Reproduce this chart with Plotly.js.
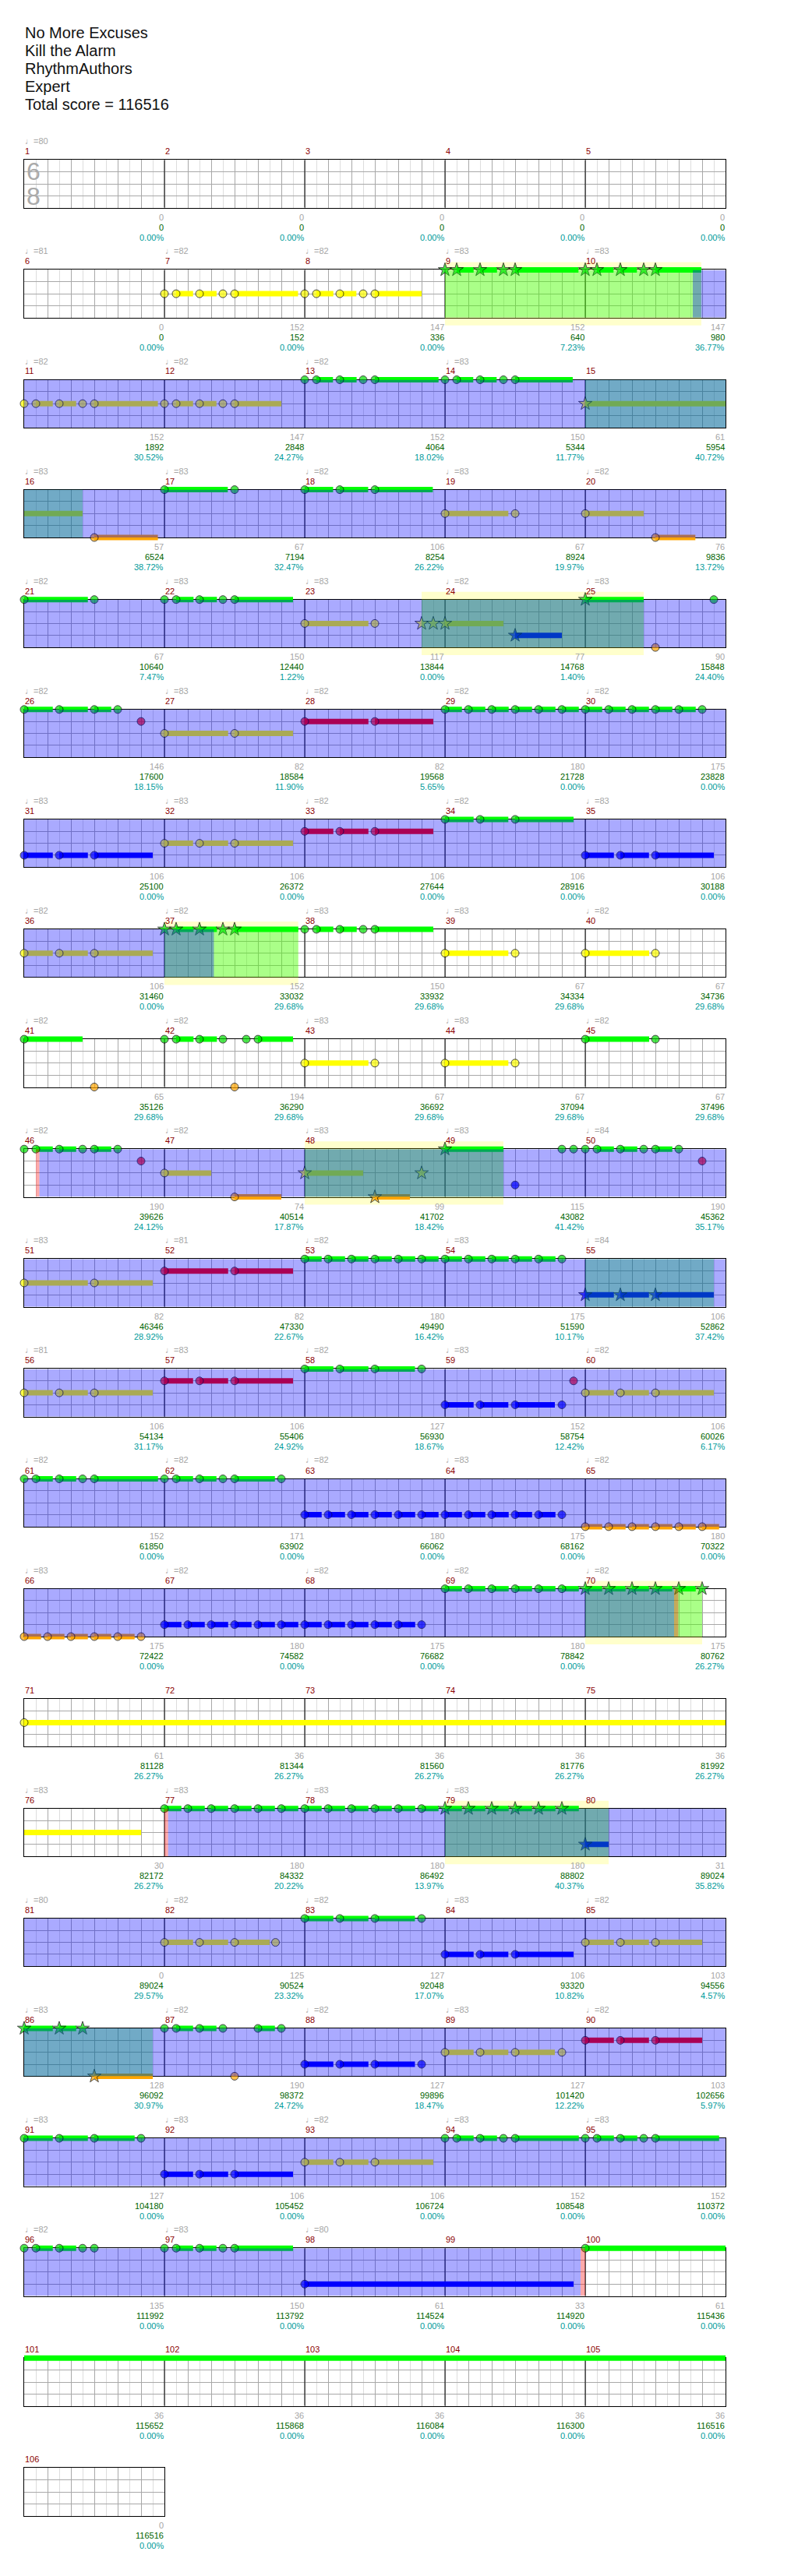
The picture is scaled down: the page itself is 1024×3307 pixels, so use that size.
<!DOCTYPE html>
<html><head><meta charset="utf-8">
<script src="https://cdn.plot.ly/plotly-3.0.1.min.js"></script>
<style>html,body{margin:0;padding:0;background:#fff}</style>
</head><body><div id="chart" style="width:1024px;height:3307px"></div>
<script>
// ---------------- DATA ----------------
const titleLines = ["No More Excuses", "Kill the Alarm", "RhythmAuthors", "Expert", "Total score = 116516"];
const measureTotal = 106;
const timeSignature = ["6", "8"];

const tempoMeasures = [1, 6,7,8,9,10,11,12,13,14, 16,17,18,19,20, 21,22,23,24,25, 26,27,28,29,30, 31,32,33,34,35,
  36,37,38,39,40, 41,42,43,44,45, 46,47,48,49,50, 51,52,53,54,55, 56,57,58,59,60, 61,62,63,64,65, 66,67,68,69,70,
  76,77,78,79, 81,82,83,84,85, 86,87,88,89,90, 91,92,93,94,95, 96,97,98];
const tempoValues = [80, 81,82,82,83,83,82,82,82,83, 83,83,82,83,82, 82,83,83,82,83, 82,83,82,82,82, 83,83,82,82,83,
  82,82,83,83,82, 82,82,83,83,82, 82,82,83,83,84, 83,81,82,83,84, 81,83,82,83,82, 82,82,82,83,82, 83,82,82,82,82,
  83,83,83,83, 80,82,82,83,82, 83,82,82,83,82, 83,83,82,83,83, 82,83,80];

const measurePoints = [0,0,0,0,0, 0,152,147,152,147, 152,147,152,150,61, 57,67,106,67,76, 67,150,117,77,90,
  146,82,82,180,175, 106,106,106,106,106, 106,152,150,67,67, 65,194,67,67,67, 190,74,99,115,190,
  82,82,180,175,106, 106,106,127,152,106, 152,171,180,175,180, 175,180,175,180,175, 61,36,36,36,36,
  30,180,180,180,31, 0,125,127,106,103, 128,190,127,127,103, 127,106,106,152,152, 135,150,61,33,61,
  36,36,36,36,36, 0];
const runningScore = [0,0,0,0,0, 0,152,336,640,980, 1892,2848,4064,5344,5954, 6524,7194,8254,8924,9836,
  10640,12440,13844,14768,15848, 17600,18584,19568,21728,23828, 25100,26372,27644,28916,30188,
  31460,33032,33932,34334,34736, 35126,36290,36692,37094,37496, 39626,40514,41702,43082,45362,
  46346,47330,49490,51590,52862, 54134,55406,56930,58754,60026, 61850,63902,66062,68162,70322,
  72422,74582,76682,78842,80762, 81128,81344,81560,81776,81992, 82172,84332,86492,88802,89024,
  89024,90524,92048,93320,94556, 96092,98372,99896,101420,102656, 104180,105452,106724,108548,110372,
  111992,113792,114524,114920,115436, 115652,115868,116084,116300,116516, 116516];
const percentValues = [0,0,0,0,0, 0,0,0,7.23,36.77, 30.52,24.27,18.02,11.77,40.72, 38.72,32.47,26.22,19.97,13.72,
  7.47,1.22,0,1.40,24.40, 18.15,11.90,5.65,0,0, 0,0,0,0,0, 0,29.68,29.68,29.68,29.68,
  29.68,29.68,29.68,29.68,29.68, 24.12,17.87,18.42,41.42,35.17, 28.92,22.67,16.42,10.17,37.42,
  31.17,24.92,18.67,12.42,6.17, 0,0,0,0,0, 0,0,0,0,26.27, 26.27,26.27,26.27,26.27,26.27,
  26.27,20.22,13.97,40.37,35.82, 29.57,23.32,17.07,10.82,4.57, 30.97,24.72,18.47,12.22,5.97,
  0,0,0,0,0, 0,0,0,0,0, 0,0,0,0,0, 0];

// notes: [measure, twelfth]; sustains: [measure, startTwelfth, endTwelfth]
const greenNotes = [[13,0],[13,1],[13,3],[13,5],[13,6],[14,0],[14,1],[14,3],[14,5],[14,6],
  [17,0],[17,6],[18,0],[18,3],[18,6],[21,0],[21,6],[22,0],[22,1],[22,3],[22,5],[22,6],[25,11],
  [26,0],[26,3],[26,6],[26,8],[29,0],[29,2],[29,4],[29,6],[29,8],[29,10],[30,0],[30,2],[30,4],[30,6],[30,8],[30,10],
  [34,0],[34,3],[34,6],[38,0],[38,1],[38,3],[38,5],[38,6],[41,0],[42,0],[42,1],[42,3],[42,5],[42,7],[42,8],
  [45,0],[45,6],[46,0],[46,1],[46,3],[46,5],[46,6],[46,8],[49,10],[49,11],
  [50,0],[50,1],[50,3],[50,5],[50,6],[50,8],
  [53,0],[53,2],[53,4],[53,6],[53,8],[53,10],[54,0],[54,2],[54,4],[54,6],[54,8],[54,10],
  [58,0],[58,3],[58,6],[58,10],[61,0],[61,1],[61,3],[61,5],[61,6],[62,0],[62,1],[62,3],[62,5],[62,6],[62,10],
  [69,0],[69,2],[69,4],[69,6],[69,8],[69,10],
  [77,0],[77,2],[77,4],[77,6],[77,8],[77,10],[78,0],[78,2],[78,4],[78,6],[78,8],[78,10],
  [83,0],[83,3],[83,6],[83,10],[87,0],[87,1],[87,3],[87,5],[87,8],[87,10],[91,0],[91,3],[91,6],[91,10],
  [94,0],[94,1],[94,3],[94,5],[94,6],[95,0],[95,1],[95,3],[95,5],[95,6],
  [96,0],[96,1],[96,3],[96,5],[96,6],[97,0],[97,1],[97,3],[97,5],[97,6],[100,0]];
const greenStars = [[9,0],[9,1],[9,3],[9,5],[9,6],[10,0],[10,1],[10,3],[10,5],[10,6],[25,0],
  [37,0],[37,1],[37,3],[37,5],[37,6],[49,0],[70,0],[70,2],[70,4],[70,6],[70,8],[70,10],
  [79,0],[79,2],[79,4],[79,6],[79,8],[79,10],[86,0],[86,3],[86,5]];
const greenSustains = [[9,1,2.45],[9,3,4.45],[9,6,11.42],[10,1,2.42],[10,3,4.42],[10,6,9.93],
  [13,1,2.42],[13,3,4.44],[13,6,11.45],[14,1,2.42],[14,3,4.42],[14,6,10.93],
  [17,0,5.42],[18,0,2.43],[18,3,5.43],[18,6,10.96],[21,0,5.45],[22,1,2.49],[22,3,4.49],[22,6,11],[25,0,5],
  [26,0,2.45],[26,3,5.45],[26,6,7.45],
  [29,0,1.45],[29,2,3.45],[29,4,5.45],[29,6,7.45],[29,8,9.45],[29,10,11.45],
  [30,0,1.45],[30,2,3.45],[30,4,5.45],[30,6,7.45],[30,8,9.45],
  [34,0,2.45],[34,3,5.42],[34,6,11],[37,1,2.49],[37,3,4.49],[37,6,11.45],[38,1,2.45],[38,3,4.45],[38,6,11],
  [41,0,5],[42,1,2.49],[42,3,4.49],[42,8,11],[45,0,5.47],[46,1,2.45],[46,3,4.45],[46,6,7.45],[49,0,5],
  [50,1,2.45],[50,3,4.45],[50,6,7.45],
  [53,0,1.45],[53,2,3.45],[53,4,5.45],[53,6,7.45],[53,8,9.45],[53,10,11.45],
  [54,0,1.45],[54,2,3.45],[54,4,5.45],[54,6,7.45],[54,8,9.45],
  [58,0,2.45],[58,3,5.45],[58,6,9.43],[61,1,2.45],[61,3,4.45],[61,6,11.45],[62,1,2.45],[62,3,4.45],[62,6,9.45],
  [69,0,1.45],[69,2,3.45],[69,4,5.45],[69,6,7.45],[69,8,9.45],[69,10,11.45],
  [70,0,1.45],[70,2,3.45],[70,4,5.45],[70,6,7.45],[70,8,9.45],
  [77,0,1.45],[77,2,3.45],[77,4,5.45],[77,6,7.45],[77,8,9.45],[77,10,11.45],
  [78,0,1.45],[78,2,3.45],[78,4,5.45],[78,6,7.45],[78,8,9.45],[78,10,11.45],
  [79,0,1.45],[79,2,3.45],[79,4,5.45],[79,6,7.45],[79,8,9.45],[79,10,11.45],
  [83,0,2.45],[83,3,5.45],[83,6,9.43],[86,0,2.45],[86,3,4.45],[87,1,2.45],[87,3,4.45],[87,8,9.45],
  [91,0,2.45],[91,3,5.45],[91,6,9.45],[94,1,2.45],[94,3,4.45],[94,6,11.45],[95,1,2.45],[95,3,4.45],[95,6,11.45],
  [96,1,2.45],[96,3,4.45],[97,1,2.45],[97,3,4.45],[97,6,11],[100,0,72]];

const redNotes = [[26,10],[28,0],[28,6],[33,0],[33,3],[33,6],[46,10],[50,10],[52,0],[52,6],
  [57,0],[57,3],[57,6],[59,11],[90,0],[90,3],[90,6]];
const redStars = [];
const redSustains = [[28,0,5.45],[28,6,11],[33,0,2.45],[33,3,5.45],[33,6,11],[52,0,5.45],[52,6,11],
  [57,0,2.45],[57,3,5.45],[57,6,11],[90,0,2.45],[90,3,5.45],[90,6,10]];

const yellowNotes = [[7,0],[7,1],[7,3],[7,5],[7,6],[8,0],[8,1],[8,3],[8,5],[8,6],
  [11,0],[11,1],[11,3],[11,5],[11,6],[12,0],[12,1],[12,3],[12,5],[12,6],
  [19,0],[19,6],[20,0],[23,0],[23,6],[27,0],[27,6],[32,0],[32,3],[32,6],[36,0],[36,3],[36,6],
  [39,0],[39,6],[40,0],[40,6],[43,0],[43,6],[44,0],[44,6],[47,0],[51,0],[51,6],
  [56,0],[56,3],[56,6],[60,0],[60,3],[60,6],[71,0],[82,0],[82,3],[82,6],[82,9.5],
  [85,0],[85,3],[85,6],[89,0],[89,3],[89,6],[89,10],[93,0],[93,3],[93,6]];
const yellowStars = [[15,0],[23,10],[23,11],[24,0],[48,0],[48,10]];
const yellowSustains = [[7,1,2.45],[7,3,4.46],[7,6,11.43],[8,1,2.45],[8,3,4.42],[8,6,10],
  [11,1,2.45],[11,3,4.45],[11,6,11.44],[12,1,2.45],[12,3,4.45],[12,6,10],[15,0,17],
  [19,0,5.42],[20,0,5],[23,0,5.45],[24,0,5],[27,0,5.45],[27,6,11],
  [32,0,2.45],[32,3,5.45],[32,6,11],[36,0,2.45],[36,3,5.45],[36,6,11],[39,0,5.42],[40,0,5.47],
  [43,0,5.45],[44,0,5.42],[47,0,4],[48,0,5],[51,0,5.45],[51,6,11],
  [56,0,2.45],[56,3,5.45],[56,6,11],[60,0,2.45],[60,3,5.45],[60,6,11],[71,0,70],
  [82,0,2.45],[82,3,5.45],[82,6,9],[85,0,2.45],[85,3,5.45],[85,6,10],
  [89,0,2.45],[89,3,5.42],[89,6,9.4],[93,0,2.45],[93,3,5.45],[93,6,11]];

const blueNotes = [[31,0],[31,3],[31,6],[35,0],[35,3],[35,6],[49,6],[59,0],[59,3],[59,6],[59,10],
  [63,0],[63,2],[63,4],[63,6],[63,8],[63,10],[64,0],[64,2],[64,4],[64,6],[64,8],[64,10],
  [67,0],[67,2],[67,4],[67,6],[67,8],[67,10],[68,0],[68,2],[68,4],[68,6],[68,8],[68,10],
  [84,0],[84,3],[84,6],[88,0],[88,3],[88,6],[88,10],[92,0],[92,3],[92,6],[98,0]];
const blueStars = [[24,6],[55,0],[55,3],[55,6],[80,0]];
const blueSustains = [[24,6,10],[31,0,2.45],[31,3,5.45],[31,6,11],[35,0,2.45],[35,3,5.45],[35,6,11],
  [55,0,2.45],[55,3,5.45],[55,6,11],[59,0,2.45],[59,3,5.42],[59,6,9.4],
  [63,0,1.45],[63,2,3.45],[63,4,5.45],[63,6,7.45],[63,8,9.45],[63,10,11.45],
  [64,0,1.45],[64,2,3.45],[64,4,5.45],[64,6,7.45],[64,8,9.45],
  [67,0,1.45],[67,2,3.45],[67,4,5.45],[67,6,7.45],[67,8,9.45],[67,10,11.45],
  [68,0,1.45],[68,2,3.45],[68,4,5.45],[68,6,7.45],[68,8,9.45],
  [80,0,2],[84,0,2.45],[84,3,5.42],[84,6,11],[88,0,2.45],[88,3,5.45],[88,6,9.43],
  [92,0,2.45],[92,3,5.45],[92,6,11],[98,0,23]];

const orangeNotes = [[16,6],[20,6],[25,6],[41,6],[42,6],[47,6],
  [65,0],[65,2],[65,4],[65,6],[65,8],[65,10],[66,0],[66,2],[66,4],[66,6],[66,8],[66,10],[87,6]];
const orangeStars = [[48,6],[86,6]];
const orangeSustains = [[16,6,11.44],[20,6,9.42],[47,6,10],[48,6,9],
  [65,0,1.45],[65,2,3.45],[65,4,5.45],[65,6,7.45],[65,8,9.45],[65,10,11.45],
  [66,0,1.45],[66,2,3.45],[66,4,5.45],[66,6,7.45],[66,8,9.45],[86,6,11]];

// shaded ranges: [startMeasure, startTwelfth, endMeasure, endTwelfth]
const activationRanges = [[10,9.2,37,4.23],[46,1.3,70,7.6],[77,0.31,99,11.6]];
const phraseRanges = [[9,0,10,9.93],[15,0,16,5],[23,10,25,5],[37,0,37,11.45],[48,0,49,5],
  [55,0,55,11],[70,0,70,10],[79,0,80,2],[86,0,86,11]];
const highlightRanges = [[9,0,10,9.93],[23,10,25,5],[37,0,37,11.45],[48,0,49,5],[70,0,70,10],[79,0,80,2]];
const markerRanges = [[46,1,46,1.3],[70,7.6,70,7.96],[77,0,77,0.31],[99,11.6,100,0]];

// ---------------- LAYOUT CONSTANTS ----------------
const W = 1024, H = 3307;
const LEFT = 31, MW = 180, TOP0 = 205.3, STEP = 141.1, STAFF = 61.4, PAD = 14, PER_ROW = 5;
const sustainColors = ['#00ff00', '#ff0000', '#ffff00', '#0000ff', '#ffa500'];
const noteColors = ['#00dd00', '#ff0000', '#ffff00', '#0000ff', '#ffa500'];
const lanes = [
  {notes: greenNotes, stars: greenStars, sustains: greenSustains},
  {notes: redNotes, stars: redStars, sustains: redSustains},
  {notes: yellowNotes, stars: yellowStars, sustains: yellowSustains},
  {notes: blueNotes, stars: blueStars, sustains: blueSustains},
  {notes: orangeNotes, stars: orangeStars, sustains: orangeSustains}
];

const id = (l, i) => l + (i === 1 ? '' : i);
const key = (l, i) => l + 'axis' + (i === 1 ? '' : i);
const pos = (m, t) => m + t / 12;
const py = px => 1 - px / H;

const layout = {
  width: W, height: H, margin: {l: 0, r: 0, t: 0, b: 0},
  paper_bgcolor: '#ffffff', plot_bgcolor: 'rgba(0,0,0,0)',
  showlegend: false, hovermode: false, shapes: [], annotations: []
};
const traces = [];
const nRows = Math.ceil(measureTotal / PER_ROW);
const labelFont = 'Liberation Sans, Arial, sans-serif';

// title block
titleLines.forEach((t, i) => {
  layout.annotations.push({text: t, xref: 'paper', yref: 'paper', x: LEFT / W, y: py(42.3 + 23 * i),
    xanchor: 'left', yanchor: 'middle', xshift: -1, showarrow: false,
    font: {family: labelFont, size: 20, color: '#111111'}});
});

for (let r = 0; r < nRows; r++) {
  const m0 = r * PER_ROW + 1;
  const n = Math.min(PER_ROW, measureTotal - m0 + 1);
  const m1 = m0 + n;
  const T = TOP0 + STEP * r;
  const gi = r + 1, ni = r + 1 + nRows;
  const xd = [LEFT / W, (LEFT + MW * n) / W];

  layout[key('x', gi)] = {domain: xd, range: [m0, m1], anchor: id('y', gi), fixedrange: true,
    showgrid: true, gridcolor: '#a8a8a8', gridwidth: 1, tick0: m0, dtick: 1 / 6,
    minor: {dtick: 1 / 12, showgrid: true, gridcolor: '#dddddd', gridwidth: 1},
    showticklabels: false, ticks: '', zeroline: false, showline: true, mirror: true, linecolor: '#000', linewidth: 1};
  layout[key('y', gi)] = {domain: [py(T + STAFF), py(T)], range: [4, 0], anchor: id('x', gi), fixedrange: true,
    showgrid: true, gridcolor: '#a8a8a8', gridwidth: 1, tick0: 0, dtick: 1,
    showticklabels: false, ticks: '', zeroline: false, showline: true, mirror: true, linecolor: '#000', linewidth: 1};
  const ext = PAD * 4 / STAFF;
  layout[key('x', ni)] = {domain: xd, range: [m0, m1], anchor: id('y', ni), visible: false, fixedrange: true};
  layout[key('y', ni)] = {domain: [py(T + STAFF + PAD), py(T - PAD)], range: [4 + ext, -ext], anchor: id('x', ni),
    visible: false, fixedrange: true};

  // measure bar lines
  for (let m = m0 + 1; m < m1; m++) {
    layout.shapes.push({type: 'line', xref: id('x', gi), yref: id('y', gi), x0: m, x1: m, y0: 0, y1: 4,
      line: {color: '#000000', width: 1}, layer: 'between'});
  }

  // shaded ranges
  const addRanges = (list, fill, onNotes, layer) => {
    list.forEach(([sm, st, em, et]) => {
      const a = Math.max(pos(sm, st), m0), b = Math.min(pos(em, et), m1);
      if (a >= b) return;
      const hy = 10 * 4 / STAFF;
      layout.shapes.push({type: 'rect', xref: id('x', onNotes ? ni : gi), yref: id('y', onNotes ? ni : gi),
        x0: a, x1: b, y0: onNotes ? -hy : 0, y1: onNotes ? 4 + hy : 4,
        fillcolor: fill, line: {width: 0}, layer: layer});
    });
  };
  addRanges(highlightRanges, 'rgba(255,255,0,0.2)', true, 'below');
  addRanges(phraseRanges, 'rgba(0,255,0,0.333)', false, 'above');
  addRanges(activationRanges, 'rgba(0,0,255,0.333)', false, 'above');
  addRanges(markerRanges, 'rgba(255,0,0,0.333)', false, 'above');

  // sustains
  lanes.forEach((lane, L) => {
    const xs = [], ys = [];
    lane.sustains.forEach(([m, t0, t1]) => {
      const a = Math.max(pos(m, t0), m0), b = Math.min(pos(m, t1), m1);
      if (a < b) { xs.push(a, b, null); ys.push(L, L, null); }
    });
    if (xs.length) traces.push({type: 'scatter', mode: 'lines', x: xs, y: ys, xaxis: id('x', ni), yaxis: id('y', ni),
      line: {color: sustainColors[L], width: 7}, hoverinfo: 'skip', cliponaxis: false});
  });

  // notes
  const nx = [], ny = [], nc = [], ns = [], nz = [];
  lanes.forEach((lane, L) => {
    lane.notes.forEach(([m, t]) => { const p = pos(m, t); if (p >= m0 && p < m1) { nx.push(p); ny.push(L); nc.push(noteColors[L]); ns.push('circle'); nz.push(10); } });
    lane.stars.forEach(([m, t]) => { const p = pos(m, t); if (p >= m0 && p < m1) { nx.push(p); ny.push(L); nc.push(noteColors[L]); ns.push('star'); nz.push(13); } });
  });
  if (nx.length) traces.push({type: 'scatter', mode: 'markers', x: nx, y: ny, xaxis: id('x', ni), yaxis: id('y', ni),
    marker: {color: nc, symbol: ns, size: nz, line: {color: '#000000', width: 1}}, hoverinfo: 'skip', cliponaxis: false});

  // labels
  for (let m = m0; m < m1; m++) {
    layout.annotations.push({text: String(m), xref: id('x', gi), yref: 'paper', x: m, y: py(T - 11),
      xanchor: 'left', yanchor: 'middle', xshift: -1, showarrow: false,
      font: {family: labelFont, size: 11, color: '#8b0000'}});
    const ti = tempoMeasures.indexOf(m);
    if (ti >= 0) layout.annotations.push({text: '\u2669=' + tempoValues[ti], xref: id('x', gi), yref: 'paper', x: m, y: py(T - 24),
      xanchor: 'left', yanchor: 'middle', xshift: -1, showarrow: false,
      font: {family: labelFont, size: 11, color: '#a6a6a6'}});
    const idx = m - 1;
    [[String(measurePoints[idx]), '#a6a6a6', 12], [String(runningScore[idx]), '#006400', 25],
     [percentValues[idx].toFixed(2) + '%', '#009b9b', 38]].forEach(([txt, col, dy]) => {
      layout.annotations.push({text: txt, xref: id('x', gi), yref: 'paper', x: m + 1, y: py(T + STAFF + dy),
        xanchor: 'right', yanchor: 'middle', xshift: 1, showarrow: false,
        font: {family: labelFont, size: 11, color: col}});
    });
  }
  if (r === 0) {
    timeSignature.forEach((d, i) => {
      layout.annotations.push({text: d, xref: id('x', gi), yref: 'paper', x: m0, y: py(T + 14.5 + 32 * i),
        xanchor: 'left', yanchor: 'middle', xshift: 1, showarrow: false,
        font: {family: labelFont, size: 32, color: '#aaaaaa'}});
    });
  }
}

Plotly.newPlot('chart', traces, layout, {staticPlot: true, displayModeBar: false});
</script>
</body></html>
